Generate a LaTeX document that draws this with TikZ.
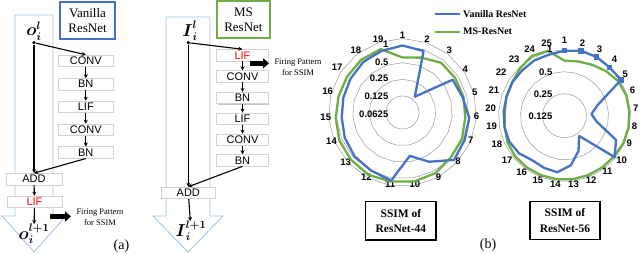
\documentclass[tikz,border=0pt]{standalone}
\usepackage{amsmath}
\usepackage{fontspec}
\setmainfont{Liberation Serif}
\setsansfont{Liberation Sans}
\usetikzlibrary{arrows.meta,calc,shadows}
\definecolor{lblue}{HTML}{9DC3E6}
\definecolor{vblue}{HTML}{4472C4}
\definecolor{msgreen}{HTML}{70AD47}
\definecolor{gridc}{HTML}{9A9A9A}
\begin{document}
\begin{tikzpicture}[x=1pt,y=-1pt,
  layer/.style={draw=gray!35, fill=white, line width=0.6pt, minimum height=11.5pt,
    inner sep=0pt, font=\sffamily\fontsize{11}{11}\selectfont,
    general shadow={fill=gray!45, shadow xshift=0.9pt, shadow yshift=-0.9pt}},
  arr/.style={line width=1.1pt, -{Stealth[length=4pt,width=4pt]}},
  blk/.style={line width=4.5pt, -{Triangle[length=6pt,width=10pt]}},
  outl/.style={draw=lblue, line width=0.8pt},
  ftext/.style={align=center, inner sep=0pt, font=\fontsize{8.5}{11}\selectfont},
  lab/.style={inner sep=0pt, font=\fontsize{16}{16}\selectfont},
  tbox/.style={line width=1.8pt, align=center, inner sep=0pt, font=\fontsize{13}{15}\selectfont},
  cbox/.style={draw=black, line width=1.2pt, align=center, inner sep=0pt, font=\bfseries\fontsize{11.5}{15.5}\selectfont},
  slab/.style={inner sep=0.5pt, font=\sffamily\bfseries\fontsize{9.5}{9.5}\selectfont},
  gridl/.style={draw=gridc, line width=0.5pt},
  bl/.style={draw=vblue, line width=2.3pt, line join=round},
  gl/.style={draw=msgreen, line width=2.3pt, line join=round},
  leg/.style={anchor=west, inner sep=0pt, font=\bfseries\fontsize{10}{10}\selectfont}]
\useasboundingbox (0,0) rectangle (640,254);

% ---------- (a) Vanilla ResNet ----------
\draw[outl] (15,15) -- (53,15) -- (53,216) -- (66,216) -- (34,252) -- (2,216) -- (15,216) -- cycle;
\node[tbox, draw=vblue, minimum width=55pt, minimum height=37.6pt] (vt) at (87.5,20.5) {Vanilla\\ResNet};
\node[lab] (oin) at (34,31) {$\boldsymbol{o}_{\boldsymbol{i}}^{\boldsymbol{l}}$};
\node[circle, fill=black, inner sep=0pt, minimum size=3.6pt] (dA) at (34,42.7) {};
\node[layer, minimum width=55pt] (c1) at (85.8,60.8) {CONV};
\node[layer, minimum width=55pt] (b1) at (85.8,84.2) {BN};
\node[layer, minimum width=55pt] (l1) at (85.8,106.8) {LIF};
\node[layer, minimum width=55pt] (c2) at (85.8,129.8) {CONV};
\node[layer, minimum width=55pt] (b2) at (85.8,152.5) {BN};
\node[layer, minimum width=56pt] (addA) at (34,179.2) {ADD};
\node[layer, minimum width=55pt, text=red] (lifA) at (34.5,201.8) {LIF};
\node[lab] (oout) at (34,234) {$\boldsymbol{o}_{\boldsymbol{i}}^{\boldsymbol{l+1}}$};
\draw[arr] (dA) -- (c1.north);
\draw[arr] (c1) -- (b1);
\draw[arr] (b1) -- (l1);
\draw[arr] (l1) -- (c2);
\draw[arr] (c2) -- (b2);
\draw[arr] (dA) -- (addA.north);
\draw[arr] (b2.south) -- (addA.north);
\draw[arr] (addA) -- (lifA);
\draw[arr] (lifA) -- (oout);
\node[ftext] (fp1) at (100,217.5) {Firing Pattern\\for SSIM};
\coordinate (fa1) at (50,216.5);
\coordinate (fe1) at (71,216.5);
\draw[blk] (fa1) -- (fe1);
\node[inner sep=0pt, font=\fontsize{14}{14}\selectfont] (la) at (121.5,246.5) {(a)};

% ---------- (a) MS ResNet ----------
\draw[outl] (166,17) -- (210,17) -- (210,216) -- (223,216) -- (188,252) -- (153,216) -- (166,216) -- cycle;
\node[tbox, draw=msgreen, minimum width=53.3pt, minimum height=37pt] (mt) at (243.4,19.8) {MS\\ResNet};
\node[lab] (iin) at (190,31) {$\boldsymbol{I}_{\boldsymbol{i}}^{\boldsymbol{l}}$};
\node[circle, fill=black, inner sep=0pt, minimum size=3.6pt] (dB) at (188.3,42.7) {};
\node[layer, minimum width=51.7pt, text=red] (m1) at (242.5,55.3) {LIF};
\node[layer, minimum width=51.7pt] (m2) at (242.5,76.3) {CONV};
\node[layer, minimum width=51.7pt] (m3) at (242.5,98) {BN};
\node[layer, minimum width=51.7pt] (m4) at (242.5,118.7) {LIF};
\node[layer, minimum width=51.7pt] (m5) at (242.5,139.7) {CONV};
\node[layer, minimum width=51.7pt] (m6) at (242.5,160.3) {BN};
\node[layer, minimum width=53.3pt] (addB) at (188.3,192.8) {ADD};
\node[lab] (iout) at (191,231) {$\boldsymbol{I}_{\boldsymbol{i}}^{\boldsymbol{l+1}}$};
\draw[arr] (dB) -- (m1.north);
\draw[arr] (m1) -- (m2);
\draw[arr] (m2) -- (m3);
\draw[arr] (m3) -- (m4);
\draw[arr] (m4) -- (m5);
\draw[arr] (m5) -- (m6);
\draw[arr] (dB) -- (addB.north);
\draw[arr] (m6.south) -- (addB.north);
\draw[arr] (addB) -- (iout);
\node[ftext] (fp2) at (298,67.3) {Firing Pattern\\for SSIM};
\coordinate (fa2) at (250,63.3);
\coordinate (fe2) at (269,63.3);
\draw[blk] (fa2) -- (fe2);

% ---------- legend ----------
\coordinate (lg1a) at (435,14); \coordinate (lg1b) at (460,14);
\coordinate (lg2a) at (435,31.7); \coordinate (lg2b) at (460,31.7);
\draw[bl] (lg1a) -- (lg1b);
\draw[gl] (lg2a) -- (lg2b);
\node[leg] (lt1) at (463,14) {Vanilla ResNet};
\node[leg] (lt2) at (463,31.7) {MS-ResNet};

% ---------- chart 1 ----------
\coordinate (C1) at (402.5,112.5);
\foreach \R in {16.6,33.2,49.8,66.4,74} {
  \draw[gridl] ($(C1)+(-90:\R)$) \foreach \k in {1,...,18} { -- ($(C1)+({\k*360/19-90}:\R)$) } -- cycle;
}
\foreach \k in {1,...,19} {
  \pgfmathsetmacro\a{(\k-1)*360/19-90}
  \pgfmathsetmacro\an{mod(630-(\k-1)*360/19,360)}
  \node[slab, anchor=\an] at ($(C1)+(\a:71)+(0,-2)$) {\k};
}
\draw[gl] ($(C1)+(-90:55)$) \foreach \r [count=\k] in {58,63,63,63,63,65,66,69,70,70,71,70,69,67,66,66,67,67} { -- ($(C1)+({\k*360/19-90}:\r)$) } -- cycle;
\draw[bl] ($(C1)+(-90:67)$) \foreach \r [count=\k] in {65,20,60,62,67,68,70,56,44,69,66,65,63,61,61,62,64,65} { -- ($(C1)+({\k*360/19-90}:\r)$) } -- cycle;
\node[slab, anchor=east] at (389,44.3) {1};
\node[slab, anchor=east] at (389,62.3) {0.5};
\node[slab, anchor=east] at (389,78.3) {0.25};
\node[slab, anchor=east] at (389,96) {0.125};
\node[slab, anchor=east] at (389,114) {0.0625};
\node[cbox, minimum width=70.3pt, minimum height=38.3pt] (t1) at (400.9,220.9) {SSIM of\\ResNet-44};

% ---------- chart 2 ----------
\coordinate (C2) at (564.5,115.7);
\foreach \R in {22,44,66} {
  \draw[gridl] ($(C2)+(-90:\R)$) \foreach \k in {1,...,24} { -- ($(C2)+({\k*14.4-90}:\R)$) } -- cycle;
}
\foreach \k in {1,...,25} {
  \pgfmathsetmacro\a{(\k-1)*14.4-90}
  \pgfmathsetmacro\an{mod(630-(\k-1)*14.4,360)}
  \node[slab, anchor=\an] at ($(C2)+(\a:68)+(0,-3)$) {\k};
}
\draw[gl] ($(C2)+(-90:55)$) \foreach \r [count=\k] in {56,58,61,64,65,65,65,65,64,64,64,64,64,64,64,64,63,61,60,61,62,65,68,67} { -- ($(C2)+({\k*14.4-90}:\r)$) } -- cycle;
\draw[bl] ($(C2)+(-90:65)$) \foreach \r [count=\k] in {67,67,66,67,35,27,33,57,65,25,38,50,57,56,55,59,61,61,61,61,62,62,63,63} { -- ($(C2)+({\k*14.4-90}:\r)$) } -- cycle;
\foreach \r [count=\k from 0] in {65,67,67,66,67} {
  \fill[vblue] ($(C2)+({\k*14.4-90}:\r)+(-2.7,-2.7)$) rectangle ++(5.4,5.4);
}
\node[slab, anchor=east] at (553,49.3) {1};
\node[slab, anchor=east] at (553,72.7) {0.5};
\node[slab, anchor=east] at (553,94) {0.25};
\node[slab, anchor=east] at (553,116.7) {0.125};
\node[cbox, minimum width=70pt, minimum height=37.6pt] (t2) at (565,220.5) {SSIM of\\ResNet-56};
\node[inner sep=0pt, font=\fontsize{14}{14}\selectfont] (lb) at (488,245) {(b)};
\end{tikzpicture}
\end{document}
